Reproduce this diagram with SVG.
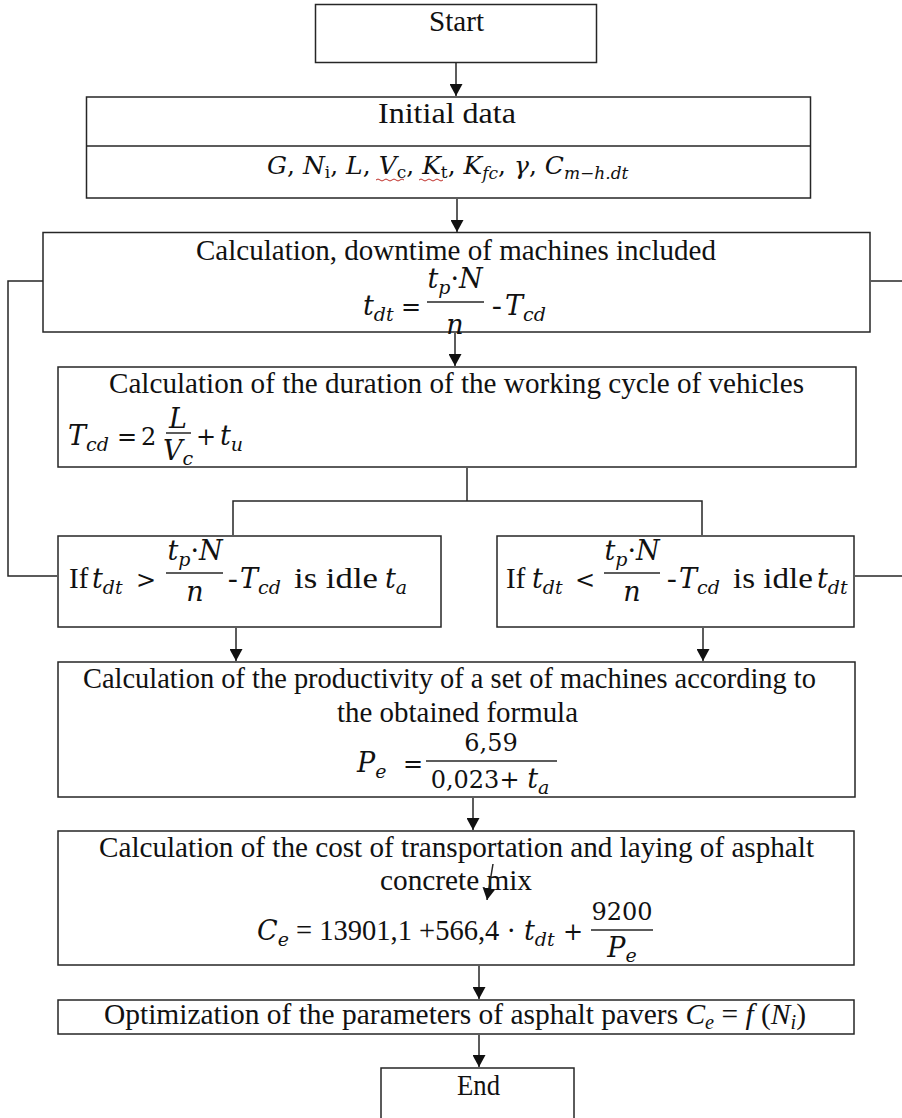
<svg xmlns="http://www.w3.org/2000/svg" width="902" height="1118" viewBox="0 0 902 1118">
<style>
.box{fill:#fff;stroke:#262626;stroke-width:1.5}
.ln{fill:none;stroke:#262626;stroke-width:1.5}
.arr{fill:none;stroke:#262626;stroke-width:1.5;marker-end:url(#ah)}
.t{font-family:"Liberation Serif","Times New Roman",serif;font-size:29px;fill:#111}
.m{font-family:"DejaVu Serif",serif;font-style:italic;font-size:27px;fill:#111}
.mu{font-family:"DejaVu Serif",serif;font-size:24px;fill:#111}
.s{font-size:19px}
.su{font-style:normal}
.wavy{fill:none;stroke:#c0302a;stroke-width:1}
</style>
<defs>
<marker id="ah" markerUnits="userSpaceOnUse" markerWidth="12" markerHeight="13" refX="12" refY="6.5" orient="auto">
<path d="M0,0 L12,6.5 L0,13 Z" fill="#111"/>
</marker>
</defs>

<g id="start">
<rect class="box" x="315.5" y="4.5" width="281" height="58"/>
<text class="t" x="429" y="31" textLength="55" lengthAdjust="spacingAndGlyphs">Start</text>
</g>

<g id="initial-data">
<rect class="box" x="86.5" y="97" width="724" height="101"/>
<line class="ln" x1="86.5" y1="146" x2="810.5" y2="146"/>
<text class="t" x="378" y="123" textLength="138" lengthAdjust="spacingAndGlyphs">Initial data</text>
<text x="267" y="174" font-family="'DejaVu Serif',serif" font-style="italic" font-size="25" fill="#111">G<tspan font-style="normal">, </tspan>N<tspan dy="4" font-size="17" font-style="normal">i</tspan><tspan dy="-4" font-style="normal">, </tspan>L<tspan font-style="normal">, </tspan>V<tspan dy="4" font-size="17" font-style="normal">c</tspan><tspan dy="-4" font-style="normal">, </tspan>K<tspan dy="4" font-size="17" font-style="normal">t</tspan><tspan dy="-4" font-style="normal">, </tspan>K<tspan dy="5" font-size="17">fc</tspan><tspan dy="-5" font-style="normal">, </tspan>γ<tspan font-style="normal">, </tspan>C<tspan dy="5" font-size="17">m−h.dt</tspan></text>
<path class="wavy" d="M376,180 q2,-2 4,0 t4,0 t4,0 t4,0 t4,0 t4,0 t4,0"/>
<path class="wavy" d="M419,180 q2,-2 4,0 t4,0 t4,0 t4,0 t4,0 t4,0"/>
</g>

<g id="downtime">
<rect class="box" x="43" y="232.5" width="827" height="99.5"/>
<text class="t" x="196" y="260" textLength="520" lengthAdjust="spacingAndGlyphs">Calculation, downtime of machines included</text>
<text class="m" x="363" y="315">t<tspan class="s" dy="6">dt</tspan></text>
<text class="mu" x="401" y="315">=</text>
<line class="ln" x1="427" y1="302" x2="484" y2="302"/>
<text class="m" x="455" y="288" text-anchor="middle">t<tspan class="s" dy="6">p</tspan><tspan dy="-6" class="su">·</tspan>N</text>
<text class="m" x="455" y="334" text-anchor="middle">n</text>
<text class="t" x="492" y="315">-</text>
<text class="m" x="505" y="315">T<tspan class="s" dy="6">cd</tspan></text>
</g>

<g id="work-cycle">
<rect class="box" x="58" y="367" width="798" height="100"/>
<text class="t" x="109" y="393" textLength="695" lengthAdjust="spacingAndGlyphs">Calculation of the duration of the working cycle of vehicles</text>
<text class="m" x="68" y="445">T<tspan class="s" dy="6">cd</tspan></text>
<text class="mu" x="117" y="445">=</text>
<text class="mu" x="141" y="445">2</text>
<line class="ln" x1="166" y1="433" x2="191" y2="433"/>
<text class="m" x="178" y="428" text-anchor="middle">L</text>
<text class="m" x="178" y="460" text-anchor="middle">V<tspan class="s" dy="5">c</tspan></text>
<text class="mu" x="196" y="445">+</text>
<text class="m" x="220" y="445">t<tspan class="s" dy="6">u</tspan></text>
</g>

<g id="cond-greater">
<rect class="box" x="58" y="536" width="383" height="91"/>
<text class="t" x="69" y="588">If</text>
<text class="m" x="92" y="588">t<tspan class="s" dy="6">dt</tspan></text>
<text class="mu" x="136" y="588">&gt;</text>
<line class="ln" x1="166" y1="573" x2="223" y2="573"/>
<text class="m" x="195" y="560" text-anchor="middle">t<tspan class="s" dy="6">p</tspan><tspan dy="-6" class="su">·</tspan>N</text>
<text class="m" x="195" y="601" text-anchor="middle">n</text>
<text class="t" x="228" y="588">-</text>
<text class="m" x="240" y="588">T<tspan class="s" dy="6">cd</tspan></text>
<text class="t" x="294" y="588" textLength="84" lengthAdjust="spacingAndGlyphs">is idle</text>
<text class="m" x="385" y="588">t<tspan class="s" dy="6">a</tspan></text>
</g>

<g id="cond-less">
<rect class="box" x="497" y="536" width="357" height="91"/>
<text class="t" x="506" y="588">If</text>
<text class="m" x="532" y="588">t<tspan class="s" dy="6">dt</tspan></text>
<text class="mu" x="575" y="588">&lt;</text>
<line class="ln" x1="604" y1="573" x2="660" y2="573"/>
<text class="m" x="632" y="560" text-anchor="middle">t<tspan class="s" dy="6">p</tspan><tspan dy="-6" class="su">·</tspan>N</text>
<text class="m" x="632" y="601" text-anchor="middle">n</text>
<text class="t" x="667" y="588">-</text>
<text class="m" x="679" y="588">T<tspan class="s" dy="6">cd</tspan></text>
<text class="t" x="733" y="588" textLength="80" lengthAdjust="spacingAndGlyphs">is idle</text>
<text class="m" x="817" y="588">t<tspan class="s" dy="6">dt</tspan></text>
</g>

<g id="productivity">
<rect class="box" x="58" y="662" width="797" height="135"/>
<text class="t" x="83" y="688" textLength="733" lengthAdjust="spacingAndGlyphs">Calculation of the productivity of a set of machines according to</text>
<text class="t" x="337" y="722" textLength="241" lengthAdjust="spacingAndGlyphs">the obtained formula</text>
<text class="m" x="357" y="772">P<tspan class="s" dy="6">e</tspan></text>
<text class="mu" x="403" y="772">=</text>
<line class="ln" x1="426" y1="761" x2="557" y2="761"/>
<text class="mu" x="491" y="751" text-anchor="middle">6,59</text>
<text class="mu" x="490" y="788" text-anchor="middle">0,023+ <tspan font-style="italic" font-size="27">t</tspan><tspan font-style="italic" font-size="19" dy="6">a</tspan></text>
</g>

<g id="cost">
<rect class="box" x="58" y="831" width="796" height="134"/>
<text class="t" x="99" y="857" textLength="715" lengthAdjust="spacingAndGlyphs">Calculation of the cost of transportation and laying of asphalt</text>
<text class="t" x="380" y="890" textLength="152" lengthAdjust="spacingAndGlyphs">concrete mix</text>
<text class="m" x="257" y="940">C<tspan class="s" dy="6">e</tspan></text>
<text class="t" x="296" y="940" textLength="220" lengthAdjust="spacingAndGlyphs">= 13901,1 +566,4 ·</text>
<text class="m" x="524" y="940">t<tspan class="s" dy="6">dt</tspan></text>
<text class="mu" x="563" y="940">+</text>
<line class="ln" x1="591" y1="930" x2="653" y2="930"/>
<text class="mu" x="622" y="920" text-anchor="middle">9200</text>
<text class="m" x="622" y="957" text-anchor="middle">P<tspan class="s" dy="5">e</tspan></text>
</g>

<g id="optimization">
<rect class="box" x="58" y="1000" width="796" height="34"/>
<text class="t" x="104" y="1024" textLength="702" lengthAdjust="spacingAndGlyphs">Optimization of the parameters of asphalt pavers <tspan font-style="italic">C</tspan><tspan font-style="italic" font-size="20" dy="5">e</tspan><tspan dy="-5"> = </tspan><tspan font-style="italic">f</tspan><tspan> (</tspan><tspan font-style="italic">N</tspan><tspan font-style="italic" font-size="20" dy="5">i</tspan><tspan dy="-5">)</tspan></text>
</g>

<g id="end">
<rect class="box" x="381" y="1068" width="193" height="60"/>
<text class="t" x="457" y="1095" textLength="43" lengthAdjust="spacingAndGlyphs">End</text>
</g>

<g id="connectors">
<line class="arr" x1="456" y1="63" x2="456" y2="96"/>
<line class="arr" x1="457" y1="199" x2="457" y2="232"/>
<line class="arr" x1="455" y1="333" x2="455" y2="366"/>
<polyline class="ln" points="467,468 467,501"/>
<polyline class="ln" points="233,535 233,501 702,501 702,535"/>
<polyline class="ln" points="43,281 8,281 8,576 57,576"/>
<line class="ln" x1="871" y1="281" x2="902" y2="281"/>
<line class="ln" x1="855" y1="576" x2="902" y2="576"/>
<line class="arr" x1="236" y1="628" x2="236" y2="661"/>
<line class="arr" x1="703" y1="628" x2="703" y2="661"/>
<line class="arr" x1="473" y1="798" x2="473" y2="830"/>
<line class="arr" x1="493" y1="864" x2="487" y2="900"/>
<line class="arr" x1="479" y1="966" x2="479" y2="999"/>
<line class="arr" x1="479" y1="1035" x2="479" y2="1067"/>
</g>
</svg>
